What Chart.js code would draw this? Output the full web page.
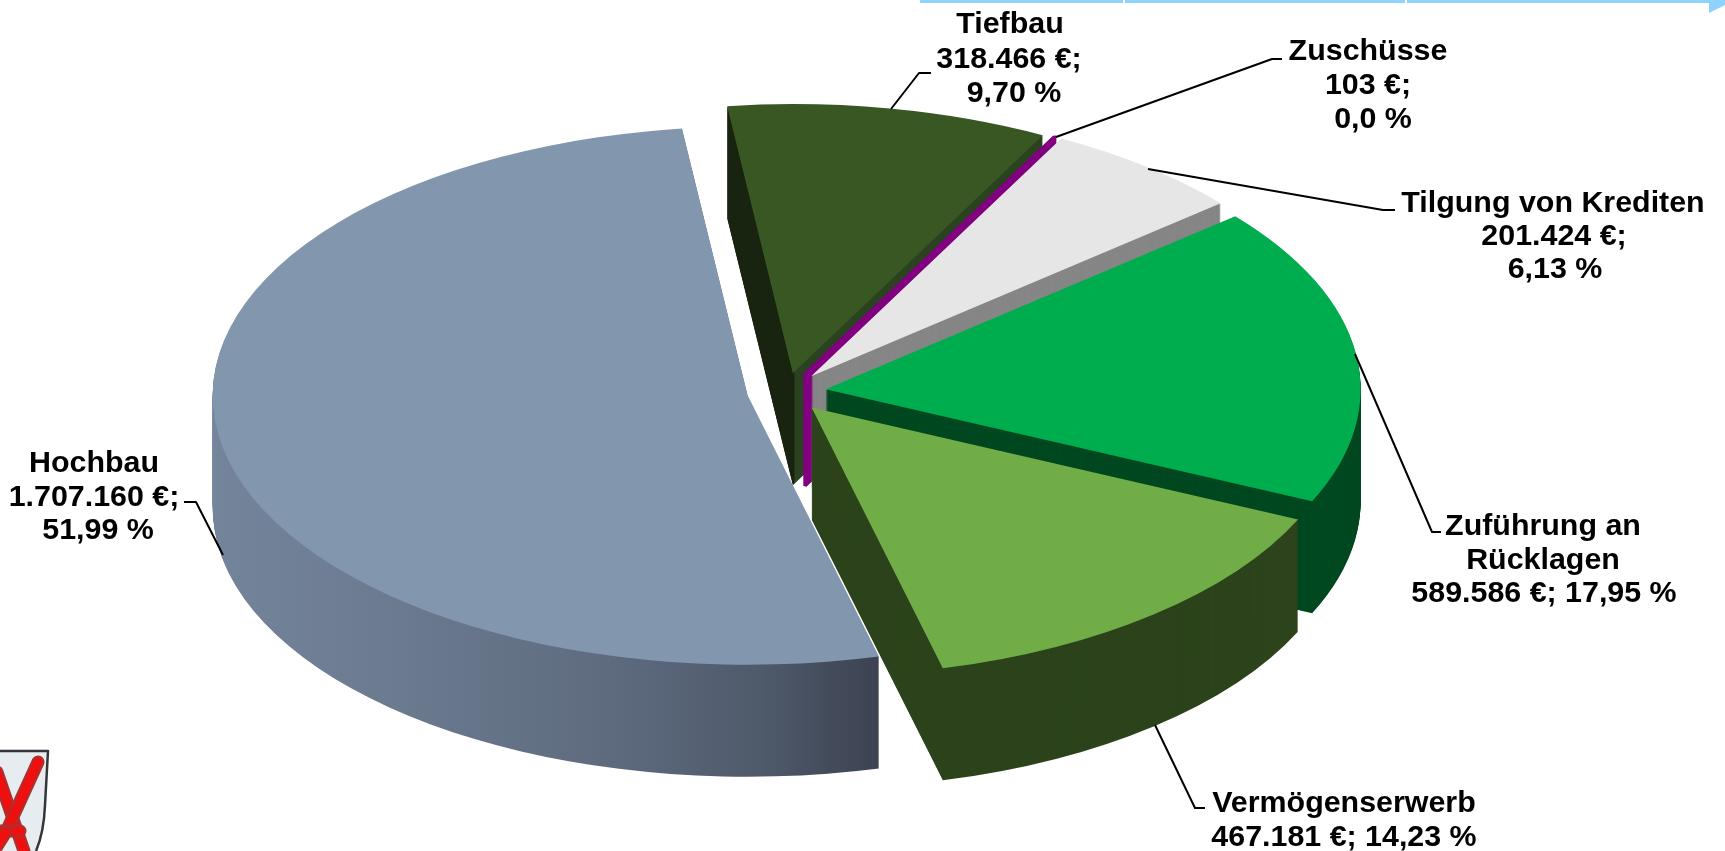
<!DOCTYPE html>
<html lang="de">
<head>
<meta charset="utf-8">
<title>Investitionen</title>
<style>html,body{margin:0;padding:0;background:#fff}canvas{display:block}</style>
<script src="https://cdn.jsdelivr.net/npm/chart.js@4"></script>
</head>
<body>
<canvas id="c" width="1725" height="851"></canvas>
<script>
const categories = ['Hochbau','Tiefbau','Zuschüsse','Tilgung von Krediten','Zuführung an Rücklagen','Vermögenserwerb'];
const amounts = [1707160,318466,103,201424,589586,467181];
const percents = ['51,99','9,70','0,0','6,13','17,95','14,23'];
const topColors = ['#8296AE','#385723','#800080','#E7E6E6','#00AD4E','#70AD47'];
const wallColors = ['#5f6c80','#2b4220','#800080','#868686','#004820','#2C431B'];
const borderWidths = [0,0,4,0,0,0];
const explodeBy = [39,38,40,40,40,40];
const paintOrder = [1,2,3,4,0,5];

const pieCenterX = 786, pieCenterY = 392, pieRadius = 535, tilt = 0.503, wallDepth = 112, startDeg = 165.8;
const font = 'bold 30.4px "Liberation Sans", Arial, sans-serif';

const fmt = v => String(v).replace(/\B(?=(\d{3})+(?!\d))/g,'.');
const valueLine = i => fmt(amounts[i])+' €;';
const pctLine = i => percents[i]+' %';
// label placement: per-line [text, centre x, centre y] and leader polyline
const labels = [
 {lines:[[categories[0],94,464],[valueLine(0),94,498],[pctLine(0),98,531]], leader:[[223,555],[196,502],[184,502]]},
 {lines:[[categories[1],1010,25],[valueLine(1),1009,60],[pctLine(1),1014,94]], leader:[[891,109],[919,73],[931,73]]},
 {lines:[[categories[2],1368,52],[valueLine(2),1368,86],[pctLine(2),1373,120]], leader:[[1056,137],[1272,59],[1282,59]]},
 {lines:[[categories[3],1553,204],[valueLine(3),1554,237],[pctLine(3),1555,270]], leader:[[1148,169],[1383,210],[1395,210]]},
 {lines:[['Zuführung an',1543,527],['Rücklagen',1543,561],[valueLine(4)+' '+pctLine(4),1544,594]], leader:[[1355,354],[1432,532],[1441,532]]},
 {lines:[[categories[5],1344,804],[valueLine(5)+' '+pctLine(5),1344,838]], leader:[[1155,725],[1195,808],[1205,808]]}
];

function wallFill(ctx, i, toPie){
  if(i===0){
    const g = ctx.createLinearGradient(toPie(211),0,toPie(880),0);
    g.addColorStop(0,'#74849b'); g.addColorStop(0.28,'#6b7a8f'); g.addColorStop(0.58,'#5f6c80');
    g.addColorStop(0.82,'#4f5a6b'); g.addColorStop(1,'#3c4251');
    return g;
  }
  if(i===1){
    const g = ctx.createLinearGradient(toPie(727),0,toPie(830),0);
    g.addColorStop(0,'#18240f'); g.addColorStop(0.65,'#18240f'); g.addColorStop(0.66,'#2b4220'); g.addColorStop(1,'#2b4220');
    return g;
  }
  return wallColors[i];
}

const extruded = {
  id:'extruded',
  beforeDatasetDraw(chart,args){
    const ctx = chart.ctx, meta = chart.getDatasetMeta(args.index);
    paintOrder.forEach(i=>{
      const arc = meta.data[i];
      const mid = (arc.startAngle+arc.endAngle)/2;
      const ox = pieCenterX+Math.cos(mid)*explodeBy[i], oy = pieCenterY+Math.sin(mid)*explodeBy[i]*tilt;
      const toPie = x => x-ox+arc.x;
      const shade = Object.create(arc);
      shade.options = Object.assign({},arc.options,{backgroundColor:wallFill(ctx,i,toPie),borderColor:wallColors[i]});
      for(let d=wallDepth;d>=0;d--){
        const el = d===0 ? arc : shade;
        ctx.save();
        ctx.translate(ox,oy+d);
        ctx.scale(1,tilt);
        ctx.translate(-arc.x,-arc.y);
        el.draw(ctx);
        ctx.restore();
      }
    });
    return false;
  },
  afterDraw(chart){
    const ctx = chart.ctx;
    // leader lines and labels
    ctx.save();
    ctx.strokeStyle='#000'; ctx.lineWidth=2; ctx.lineJoin='round';
    labels.forEach(l=>{
      ctx.beginPath();
      l.leader.forEach((p,k)=>k?ctx.lineTo(p[0],p[1]):ctx.moveTo(p[0],p[1]));
      ctx.stroke();
    });
    ctx.fillStyle='#000'; ctx.font=font; ctx.textAlign='center'; ctx.textBaseline='middle';
    labels.forEach(l=>l.lines.forEach(t=>ctx.fillText(t[0],t[1],t[2])));
    // slide strip at the top edge
    ctx.fillStyle='#8dd3fb';
    [[920,1123],[1125,1405],[1407,1725]].forEach(s=>ctx.fillRect(s[0],0,s[1]-s[0],3));
    ctx.beginPath(); ctx.moveTo(1709,0); ctx.lineTo(1725,0); ctx.lineTo(1725,5); ctx.lineTo(1709,13); ctx.closePath(); ctx.fill();
    // coat of arms, bottom left
    ctx.beginPath();
    ctx.moveTo(0,751); ctx.lineTo(48,751); ctx.lineTo(45,805);
    ctx.quadraticCurveTo(44,832,36,851); ctx.lineTo(0,851); ctx.closePath();
    ctx.fillStyle='#e6ecef'; ctx.fill();
    ctx.strokeStyle='#33363a'; ctx.lineWidth=2.5;
    ctx.beginPath(); ctx.moveTo(0,751); ctx.lineTo(48,751); ctx.lineTo(45,805); ctx.quadraticCurveTo(44,832,36,851); ctx.stroke();
    ctx.lineCap='round';
    const bar=(x1,y1,x2,y2,w)=>{
      ctx.strokeStyle='#a83232'; ctx.lineWidth=w+2; ctx.beginPath(); ctx.moveTo(x1,y1); ctx.lineTo(x2,y2); ctx.stroke();
      ctx.strokeStyle='#ee0f0f'; ctx.lineWidth=w-2; ctx.beginPath(); ctx.moveTo(x1,y1); ctx.lineTo(x2,y2); ctx.stroke();
    };
    bar(-3,772,24,851,11);
    bar(38,762,6,832,11);
    bar(-2,831,20,831,11);
    bar(6,832,-6,851,11);
    ctx.restore();
  }
};

new Chart(document.getElementById('c'),{
  type:'pie',
  data:{labels:categories,datasets:[{data:amounts,backgroundColor:topColors,borderColor:topColors,borderWidth:borderWidths}]},
  options:{
    responsive:false,animation:false,radius:pieRadius,rotation:startDeg,
    layout:{padding:0},
    plugins:{legend:{display:false},tooltip:{enabled:false}},
    events:[]
  },
  plugins:[extruded]
});
</script>
</body>
</html>
